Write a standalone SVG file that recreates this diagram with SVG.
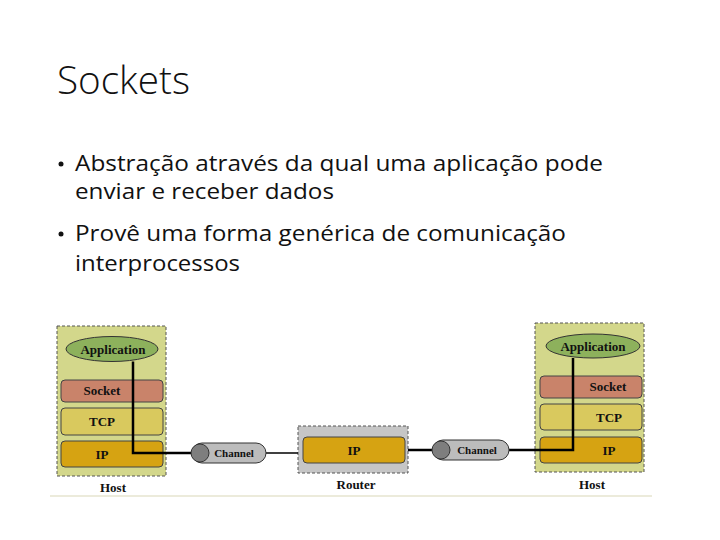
<svg xmlns="http://www.w3.org/2000/svg" width="720" height="540" viewBox="0 0 720 540">
<style>
.title{font-family:"Open Sans","Liberation Sans",sans-serif;font-size:38px;fill:#111;font-weight:300}
.body{font-family:"Open Sans","Liberation Sans",sans-serif;font-size:21px;fill:#111}
.lbl{font-family:"Liberation Serif","DejaVu Serif",serif;font-weight:bold;font-size:13px;fill:#111;text-anchor:middle}
.ch{font-family:"Liberation Serif","DejaVu Serif",serif;font-weight:bold;font-size:11px;fill:#111;text-anchor:middle}
.host{fill:#d3d78b;stroke:#555;stroke-width:1;stroke-dasharray:3 2}
.router{fill:#c6c6c6;stroke:#555;stroke-width:1;stroke-dasharray:3 2}
.app{fill:#8db15c;stroke:#333;stroke-width:1}
.sock{fill:#c9836a;stroke:#444;stroke-width:1}
.tcp{fill:#d9c95e;stroke:#444;stroke-width:1}
.ip{fill:#d6a312;stroke:#444;stroke-width:1}
.pill{fill:#bcbcbc;stroke:#333;stroke-width:1}
.dot{fill:#7e7e7e;stroke:#333;stroke-width:1}
.wire{fill:none;stroke:#000;stroke-width:2.5}
.thin{fill:none;stroke:#000;stroke-width:1.5}
</style>
<rect width="720" height="540" fill="#fff"/>
<text class="title" x="57" y="94" textLength="133" lengthAdjust="spacingAndGlyphs">Sockets</text>
<circle cx="61" cy="164" r="2.5" fill="#111"/>
<text class="body" x="75" y="171" textLength="528" lengthAdjust="spacingAndGlyphs">Abstração através da qual uma aplicação pode</text>
<text class="body" x="75" y="199" textLength="259" lengthAdjust="spacingAndGlyphs">enviar e receber dados</text>
<circle cx="61" cy="234" r="2.5" fill="#111"/>
<text class="body" x="75" y="241" textLength="491" lengthAdjust="spacingAndGlyphs">Provê uma forma genérica de comunicação</text>
<text class="body" x="75" y="271" textLength="165" lengthAdjust="spacingAndGlyphs">interprocessos</text>

<g id="hostLeft">
<rect class="host" x="57" y="326" width="109" height="150"/>
<ellipse class="app" cx="112" cy="349" rx="46" ry="12.5"/>
<text class="lbl" x="113" y="354">Application</text>
<rect class="sock" x="61" y="380" width="102" height="22" rx="4"/>
<text class="lbl" x="102" y="395">Socket</text>
<rect class="tcp" x="61" y="408" width="102" height="27" rx="4"/>
<text class="lbl" x="102" y="426">TCP</text>
<rect class="ip" x="61" y="441" width="102" height="26" rx="4"/>
<text class="lbl" x="102" y="459">IP</text>
<text class="lbl" x="113" y="492">Host</text>
</g>

<g id="router">
<rect class="router" x="298" y="426" width="110" height="47"/>
<rect class="ip" x="303" y="437" width="102" height="26" rx="4"/>
<text class="lbl" x="354" y="455">IP</text>
<text class="lbl" x="356" y="489">Router</text>
</g>

<g id="hostRight">
<rect class="host" x="535" y="323" width="109" height="149"/>
<ellipse class="app" cx="593" cy="346" rx="47" ry="12"/>
<text class="lbl" x="593" y="351">Application</text>
<rect class="sock" x="540" y="376" width="102" height="22" rx="4"/>
<text class="lbl" x="608" y="391">Socket</text>
<rect class="tcp" x="540" y="404" width="102" height="26" rx="4"/>
<text class="lbl" x="609" y="422">TCP</text>
<rect class="ip" x="540" y="437" width="102" height="26" rx="4"/>
<text class="lbl" x="609" y="455">IP</text>
<text class="lbl" x="592" y="489">Host</text>
</g>

<g id="connectors">
<path class="wire" d="M133 361.5 V453 H192"/>
<path class="thin" d="M266 453 H298"/>
<path class="wire" d="M408 450 H433"/>
<path class="wire" d="M509 450 H573 V358"/>
</g>

<g id="channelLeft">
<rect class="pill" x="192" y="443" width="74" height="20" rx="10"/>
<circle class="dot" cx="200" cy="453" r="9"/>
<text class="ch" x="234" y="457">Channel</text>
</g>

<g id="channelRight">
<rect class="pill" x="433" y="440" width="76" height="20" rx="10"/>
<circle class="dot" cx="441" cy="450" r="9"/>
<text class="ch" x="477" y="454">Channel</text>
</g>

<line x1="50" y1="496" x2="652" y2="496" stroke="#e6e4cf" stroke-width="1.5"/>
</svg>
